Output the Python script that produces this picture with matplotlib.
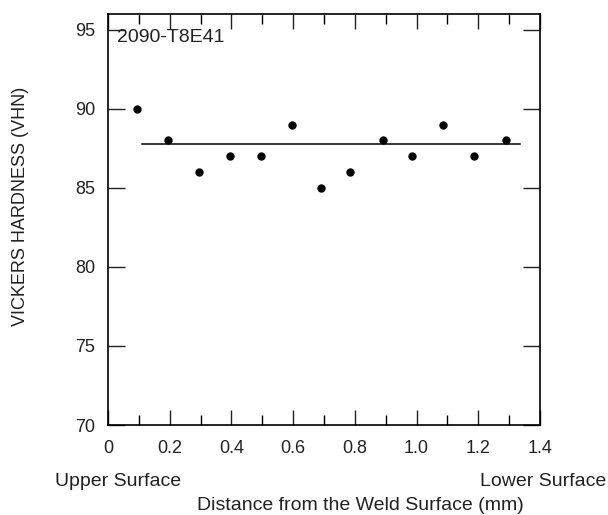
import matplotlib
matplotlib.use("Agg")
import matplotlib.pyplot as plt
from matplotlib.ticker import MultipleLocator

distance_mm = [0.095, 0.195, 0.295, 0.395, 0.495, 0.595, 0.69, 0.785, 0.89, 0.985, 1.085, 1.185, 1.29]
hardness_vhn = [90, 88, 86, 87, 87, 89, 85, 86, 88, 87, 89, 87, 88]
avg_line_x = [0.11, 1.335]
avg_line_y = [87.8, 87.8]
x_ticks = [0, 0.2, 0.4, 0.6, 0.8, 1.0, 1.2, 1.4]
x_ticklabels = ["0", "0.2", "0.4", "0.6", "0.8", "1.0", "1.2", "1.4"]
y_ticks = [70, 75, 80, 85, 90, 95]

plt.rcParams['font.family'] = ['Liberation Sans', 'DejaVu Sans']
fig = plt.figure(figsize=(6.08, 5.15), dpi=100)
ax = fig.add_axes([108/608, 1-425/515, 432/608, 411/515])
tc = '#222222'
ax.plot(distance_mm, hardness_vhn, 'o', color='black', markersize=5)
ax.plot(avg_line_x, avg_line_y, '-', color='black', linewidth=1.1)
ax.set_xlim(0, 1.4)
ax.set_ylim(70, 96)
ax.set_xticks(x_ticks)
ax.set_xticklabels(x_ticklabels)
ax.xaxis.set_minor_locator(MultipleLocator(0.1))
ax.set_yticks(y_ticks)
ax.tick_params(axis='x', which='major', direction='in', length=11, width=1, top=True, pad=11, labelsize=13, colors=tc)
ax.tick_params(axis='x', which='minor', direction='in', length=7, width=1, top=True)
ax.tick_params(axis='y', which='major', direction='in', length=12, width=1, right=True, pad=9, labelsize=13, colors=tc)
for s in ax.spines.values():
    s.set_linewidth(1.2)
fig.text(117/608, 1-29/515, "2090-T8E41", fontsize=14, color=tc, va='top', ha='left')
fig.text(55/608, 1-481/515, "Upper Surface", fontsize=14, color=tc, ha='left', va='center')
fig.text(606/608, 1-481/515, "Lower Surface", fontsize=14, color=tc, ha='right', va='center')
fig.text(360/608, 1-505/515, "Distance from the Weld Surface (mm)", fontsize=14, color=tc, ha='center', va='center')
fig.text(21/608, 1-206/515, "VICKERS HARDNESS (VHN)", fontsize=13, color=tc, ha='center', va='center', rotation=90)
fig.savefig("out.png", dpi=100)
